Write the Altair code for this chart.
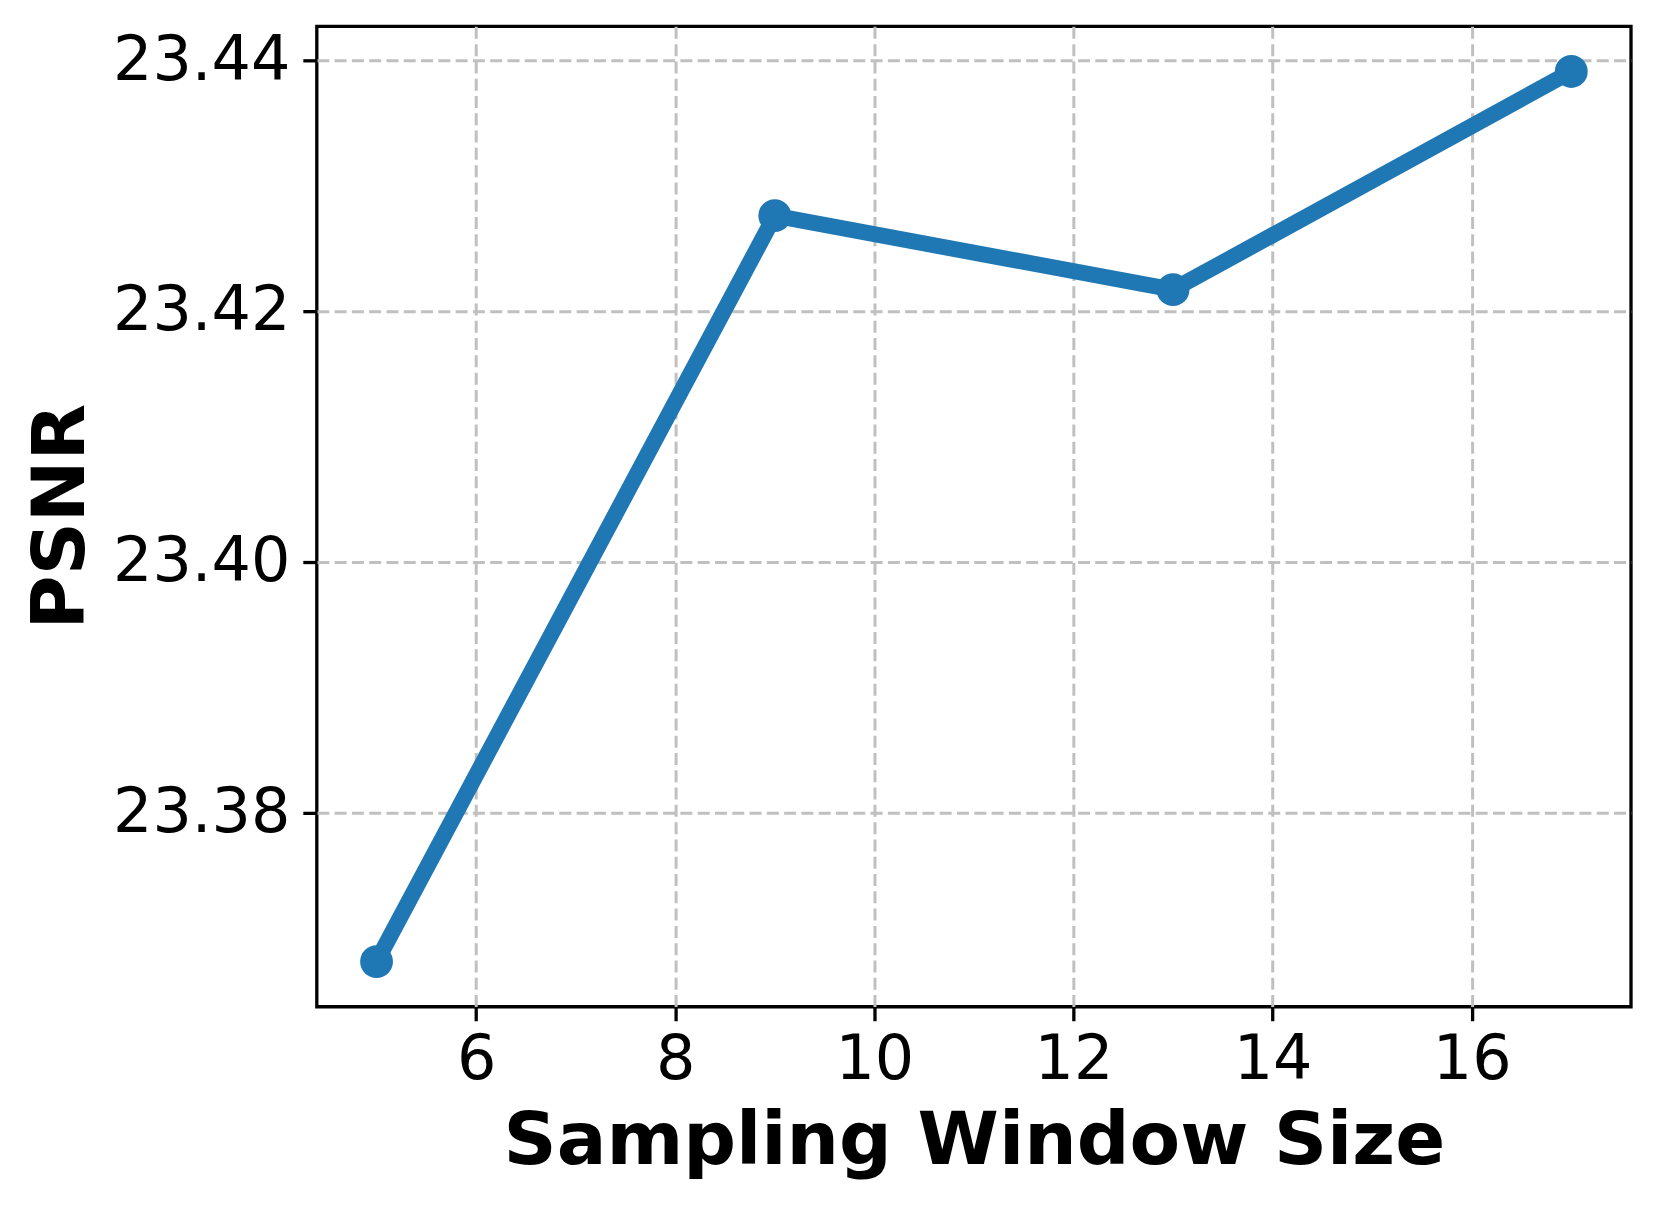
import altair as alt
import pandas as pd

window_size = [5, 9, 13, 17]
psnr = [23.3681, 23.4276, 23.4217, 23.4391]
x_ticks = [6, 8, 10, 12, 14, 16]
y_ticks = [23.38, 23.40, 23.42, 23.44]

df = pd.DataFrame({"window": window_size, "psnr": psnr})

FONT = "DejaVu Sans"
BLUE = "#1f77b4"

x_enc = alt.X(
    "window:Q",
    scale=alt.Scale(domain=[4.4, 17.6], nice=False, zero=False),
    axis=alt.Axis(
        values=x_ticks,
        format="d",
        title="Sampling Window Size",
        titleFont=FONT,
        titleFontSize=73.8,
        titleFontWeight="bold",
        titleColor="black",
        titleBaseline="alphabetic",
        titleY=157,
        labelFont=FONT,
        labelFontSize=62,
        labelColor="black",
        labelPadding=9,
        tickSize=14,
        tickWidth=3.3,
        tickColor="black",
        domain=False,
        grid=True,
        gridColor="#c0c0c0",
        gridWidth=3,
        gridDash=[12, 5.3],
        labelFlush=False,
        labelLimit=0,
    ),
)
y_enc = alt.Y(
    "psnr:Q",
    scale=alt.Scale(domain=[23.3645, 23.4427], nice=False, zero=False),
    axis=alt.Axis(
        values=y_ticks,
        format=".2f",
        title="PSNR",
        titleFont=FONT,
        titleFontSize=73.8,
        titleFontWeight="bold",
        titleColor="black",
        titleAngle=270,
        titleAlign="center",
        titleBaseline="alphabetic",
        titleX=-233,
        titleY=490,
        labelFont=FONT,
        labelFontSize=62,
        labelColor="black",
        labelPadding=13,
        tickSize=14,
        tickWidth=3.3,
        tickColor="black",
        domain=False,
        grid=True,
        gridColor="#c0c0c0",
        gridWidth=3,
        gridDash=[12, 5.3],
        labelFlush=False,
        labelLimit=0,
    ),
)

base = alt.Chart(df).encode(x=x_enc, y=y_enc)
line = base.mark_line(color=BLUE, strokeWidth=16)
points = base.mark_point(filled=True, shape="circle", color=BLUE, size=1080, opacity=1)

chart = (
    alt.layer(line, points)
    .properties(
        width=1315,
        height=981,
        autosize=alt.AutoSizeParams(type="none"),
        padding={"left": 309, "top": 18, "right": 20, "bottom": 180},
        background="white",
    )
    .configure_view(stroke="black", strokeWidth=3.3)
)

chart.save("out.html", embed_options={"renderer": "svg", "actions": False})
